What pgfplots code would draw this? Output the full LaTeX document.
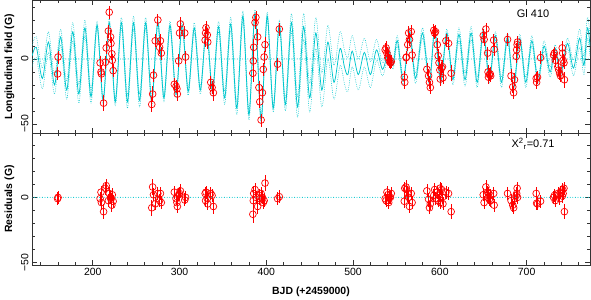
\documentclass[border=0pt]{standalone}
\usepackage{pgfplots}
\pgfplotsset{compat=1.18}
\usepackage{pgfplotstable}
\usepackage{fontspec}
\setmainfont{Liberation Sans}
\definecolor{mcyan}{RGB}{0,198,205}
\definecolor{mred}{RGB}{255,0,0}

\pgfplotstableread{
t m lo hi
130 2 -6 10
135 9 1 17
142 -15 -23 -7
149 13 5 21
156 -20 -27 -13
163 17 11 23
170 -24 -31 -17
177 21 14 28
184 -27 -34 -20
191 24 18 30
198 -29 -34 -24
205 26 23 29
212 -32 -35 -29
219 28 25 31
226 -33 -36 -30
233 28 24 32
240 -33 -38 -28
247 28 23 33
254 -32 -37 -27
261 28 24 32
268 -33 -36 -30
275 28 25 31
282 -30 -33 -27
289 26 23 29
296 -27 -30 -24
303 26 23 29
310 -25 -28 -22
317 24 20 28
324 -24 -27 -21
331 24 21 27
338 -25 -28 -22
345 25 21 29
352 -30 -35 -25
359 27 22 32
366 -38 -43 -33
373 33 29 37
380 -43 -47 -39
387 35 32 38
394 -47 -50 -44
401 33 30 36
408 -38 -41 -35
415 27 24 30
422 -35 -40 -30
429 28 21 35
436 -37 -45 -29
443 25 15 35
450 -30 -41 -19
457 20 8 32
464 -24 -37 -11
471 13 0 26
478 -18 -31 -5
485 8 -5 21
490 -6 -19 7
494 -12 -25 1
499 6 -6 18
506 -12 -24 0
513 5 -6 16
520 -12 -22 -2
527 7 -1 15
534 -8 -13 -3
541 6 3 9
546 -5 -8 -2
551 14 10 18
558 -17 -20 -14
565 21 18 24
572 -15 -19 -11
580 20 16 24
588 -18 -21 -15
594 22 19 25
601 -17 -20 -14
608 20 17 23
615 -16 -20 -12
622 19 14 24
629 -16 -21 -11
636 20 15 25
643 -18 -22 -14
650 21 18 24
657 -16 -19 -13
664 18 15 21
671 -18 -22 -14
678 17 14 20
685 -22 -25 -19
692 16 13 19
699 -18 -22 -14
706 14 10 18
713 -17 -20 -14
720 10 6 14
727 -10 -14 -6
733 8 5 11
739 -12 -15 -9
747 12 8 16
754 -7 -13 -1
761 16 9 23
766 -5 -12 2
770 24 16 32
773 10 2 18
}\model

\pgfplotstableread{
t B e r re
160 1.5 5 0 5
159.5 -11.5 5 -1 5
208.5 -3 5 -1 5
209.5 -10 5 4 5
210 -11.5 6 -4 6
212.5 -34 6 -11 6
214.5 -2.5 5 7 5
215.5 8.5 5 9 5
218 21.5 5 -2.5 5
219 36 5 3 5
220.5 17 5 0 5
221 12 5 -1.5 5
222 4 5 -6 5
222.5 -1 5 2 5
223.5 -9 5 -3 5
268 -35 6 -8 6
269 -27 6 8 6
270 -12.5 5 2 5
272 14 5 -5 5
275 30 5 3 5
277 9 5 -2.5 5
278 14 5 3 5
279 4.5 5 -4 5
294 -19.5 5 4 5
296 -21 5 -1 5
297 -23 5 -4 5
297.5 -27 5 -7 5
299 -1.5 5 2 5
300 20 5 3 5
301 27 5 5 5
306 20 5 -2 5
307 1.5 5 0 5
329.5 14.5 5 3 5
330 20 5 -2.5 5
330.5 24 5 4 5
332 18.5 5 -1 5
332.5 13 5 -5 5
336 -18 5 3 5
337.5 -22 5 1.5 5
339 -26 6 -7 6
384.5 -11 7 -13 7
385 -1.5 6 -2.5 6
385.5 9 6 3 6
387 28 5 6 5
388 32 5 0 5
390 17 6 -7 6
391.5 -22 5 1.5 5
392.5 -33 5 -1 5
394 -47 5 3 5
395.5 -26 5 0 5
396.5 -8 5 -4 5
397.5 1.5 5 -2.5 5
398.5 11 6 11 6
413 -4 5 -1 5
415 23 5 0.5 5
537 7 5 -1 5
538 8.5 5 -2.5 5
539 4.5 5 4 5
540 1 5 2 5
541 1 5 -4 5
542 -2 5 0 5
543 -3 5 0 5
544 -2 5 3 5
559 -14 5 -3 5
559.5 -18 5 7 5
561 1 5 8 5
561.5 1.5 5 6 5
563 11 5 3 5
564 20 5 0 5
565 15 5 -7 5
567 21 5 3 5
568 3 5 -4 5
585 -8 5 5 5
587 -13 5 -1.5 5
588 -18 5 -8 5
589 -22 5 -5 5
593 22 5 1.5 5
594 20 5 6 5
595 21 5 -1 5
597 11 5 4 5
598 2.5 5 -2.5 5
599 -3 5 1.5 5
600 -8.5 5 7 5
600.5 -15.5 5 -4 5
602 -7 5 6 5
603 -6 5 0 5
603.5 -14.5 5 -5 5
607 14 5 4 5
610 12 5 3 5
613 -11 6 -11 6
650 18 5 2 5
651 15 5 -4 5
653 23 5 8 5
655 4.5 5 4 5
655.5 -10 5 0 5
656 -14 5 3 5
657 -12 5 -1.5 5
658 -11.5 5 1.5 5
658.5 -13 5 -2.5 5
662 14.5 5 3 5
662.5 7.5 5 -6 5
678 15 5 3 5
682 -13 5 -2.5 5
684 -21.5 5 -6 5
685 -26 5 -8 5
686 -16 5 -1 5
688 2 5 1.5 5
688.5 7 5 3 5
689 11 5 7 5
689.5 13 5 0 5
711 -15 5 3 5
711.5 -18 5 -4.5 5
712.5 -14 5 -5 5
716 1 5 -3 5
731 3 5 0 5
732 4.5 5 1.5 5
733 -1 5 -2.5 5
736 -6 5 3 5
737 -8.5 5 2 5
738 -11 5 -1 5
739 -13 5 4 5
741 8.5 5 1 5
741.5 4.5 5 6 5
742 -1 5 3 5
743 -3 5 7 5
743.5 -16 6 -11 6
}\obs

\pgfplotsset{
  panel/.style={
    scale only axis, width=558bp, anchor=south west,
    xmin=130, xmax=773,
    xtick={200,300,...,700},
    minor xtick={140,160,...,760},
    ytick={-50,0},
    yticklabels={−50,0},
    tick align=inside, xtick pos=both, ytick pos=both,
    major tick length=5bp, minor tick length=2.8bp,
    axis line style={black!80, line width=0.8bp},
    every tick/.style={black!80, line width=0.7bp},
    tick label style={font=\fontsize{10.5}{12}\selectfont},
    yticklabel style={rotate=90, anchor=south},
    label style={font=\bfseries\fontsize{10.5}{12}\selectfont},
    clip=true,
  },
  zeroline/.style={draw=mcyan, line width=1.1bp, line cap=round, dash pattern=on 0bp off 2.6bp},
  dotmodel/.style={draw=mcyan, line width=0.8bp, line cap=round, dash pattern=on 0bp off 1.8bp, smooth, tension=0.5},
  obsmarks/.style={only marks, mark=o, mark size=3.4bp, color=mred, draw=mred,
    mark options={line width=0.7bp, draw=mred},
    error bars/.cd, y dir=both, y explicit,
    error bar style={draw=mred, line width=0.7bp}, error mark=none},
}

\begin{document}
\begin{tikzpicture}
\path[use as bounding box] (0,0) rectangle (591bp,300bp);

\begin{axis}[panel, at={(32bp,167bp)}, height=133bp,
  ymin=-57, ymax=45.4,
  minor ytick={-50,-40,...,40},
  xticklabels={},
  ylabel={Longitudinal field (G)}]
\addplot[zeroline] coordinates {(130,0) (773,0)};
\addplot[dotmodel] table[x=t,y=lo] {\model};
\addplot[dotmodel] table[x=t,y=hi] {\model};
\addplot[draw=mcyan, line width=0.75bp, smooth, tension=0.5] table[x=t,y=m] {\model};
\addplot[obsmarks] table[x=t,y=B,y error=e] {\obs};
\node[font=\fontsize{11}{13}\selectfont] at (rel axis cs:0.898,0.895) {Gl 410};
\end{axis}

\begin{axis}[panel, at={(32bp,35bp)}, height=132bp,
  ymin=-52, ymax=49.5,
  minor ytick={-50,-40,...,40},
  xticklabels={200,300,400,500,600,700},
  xlabel={BJD (+2459000)},
  xlabel style={yshift=-4bp},
  ylabel={Residuals (G)}]
\addplot[zeroline] coordinates {(130,0) (773,0)};
\addplot[obsmarks] table[x=t,y=r,y error=re] {\obs};
\node[font=\fontsize{11}{13}\selectfont] at (rel axis cs:0.898,0.917) {X\textsuperscript{2}\textsubscript{r}=0.71};
\end{axis}
\end{tikzpicture}
\end{document}
